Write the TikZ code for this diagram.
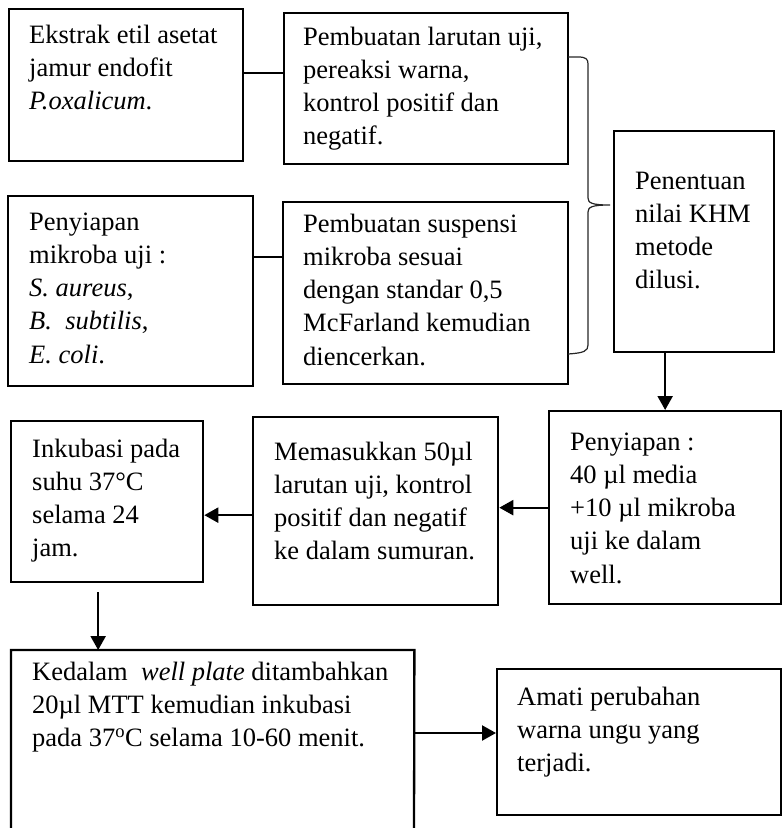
\documentclass[tikz,border=0pt]{standalone}
\usepackage{fontspec}
\setmainfont{Liberation Serif}
\usetikzlibrary{arrows.meta,positioning}
\tikzset{
  boxshape/.style={draw=black, line width=2.3pt, rectangle, inner sep=0pt},
  txt/.style={anchor=base west, inner sep=0pt, font=\fontsize{26.5}{33.3}\selectfont},
  conn/.style={line width=2.3pt},
  arr/.style={line width=2.3pt, -{Triangle[width=15pt,length=14pt]}},
  bracestyle/.style={line width=1.2pt, color=black!85}
}
\newcommand{\bx}[5]{\node[boxshape, anchor=north west, minimum width=#4pt-#2pt, minimum height=#5pt-#3pt] (#1) at (#2,#3) {};}
\newcommand{\tx}[5]{\node[txt] (#1) at (#2,#3) {\parbox[t]{#4pt}{\raggedright #5}};}
\begin{document}
\begin{tikzpicture}[x=1pt,y=-1pt]
\useasboundingbox (0,0) rectangle (782,828);
% boxes
\bx{A}{8}{8}{242}{160}
\bx{B}{283}{12}{567}{163}
\bx{C}{7}{195}{252}{385}
\bx{D}{282}{201}{567}{383}
\bx{E}{613}{130}{773}{351}
\bx{F}{548}{410}{780}{603}
\bx{G}{252}{416}{497}{604}
\bx{H}{10}{420}{202}{581}
\bx{J}{496}{668}{780}{814}
% open-bottom box I
\coordinate (Ibl) at (11,840);
\coordinate (Ibr) at (414,840);
\node[anchor=north west, inner sep=0pt, minimum width=403pt, minimum height=190pt] (I) at (11,650) {};
\draw[line width=2.3pt] (Ibl) -- (I.north west) -- (I.north east) -- (Ibr);
% texts
\tx{tA}{29}{43}{220}{Ekstrak etil asetat\\jamur endofit\\\textit{P.oxalicum}.}
\tx{tB}{303}{45}{270}{Pembuatan larutan uji,\\pereaksi warna,\\kontrol positif dan\\negatif.}
\tx{tC}{29}{230}{220}{Penyiapan\\mikroba uji :\\\textit{S. aureus},\\\textit{B.\ \ subtilis},\\\textit{E. coli}.}
\tx{tD}{303}{232}{270}{Pembuatan suspensi\\mikroba sesuai\\dengan standar 0,5\\McFarland kemudian\\diencerkan.}
\tx{tE}{635}{189}{140}{Penentuan\\nilai KHM\\metode\\dilusi.}
\tx{tF}{570}{450}{210}{Penyiapan :\\40 µl media\\+10 µl mikroba\\uji ke dalam\\well.}
\tx{tG}{274}{460}{225}{Memasukkan 50µl\\larutan uji, kontrol\\positif dan negatif\\ke dalam sumuran.}
\tx{tH}{32}{457}{170}{Inkubasi pada\\suhu 37°C\\selama 24\\jam.}
\tx{tI}{32}{680}{380}{Kedalam\ \ \textit{well plate} ditambahkan\\20µl MTT kemudian inkubasi\\pada 37\textsuperscript{o}C selama 10-60 menit.}
\tx{tJ}{517}{705}{260}{Amati perubahan\\warna ungu yang\\terjadi.}
% connectors
\draw[conn] ([yshift=12pt]A.east) -- ([yshift=12pt]A.east -| B.west);
\draw[conn] ([yshift=34pt]C.east) -- ([yshift=34pt]C.east -| D.west);
\draw[arr] (E.south -| F.north) -- (F.north);
\draw[arr] (F.west) -- (F.west -| G.east);
\draw[arr] ([yshift=-4pt]G.west) -- ([yshift=-4pt]G.west -| H.east);
\coordinate (hs) at ([xshift=-9pt,yshift=-9pt]H.south);
\draw[arr] (hs) -- (hs |- I.north);
\coordinate (ie) at (414,733);
\draw[arr] (ie) -- (ie -| J.west);
% brace
\coordinate (brtip) at (610,205);
\draw[bracestyle] (568,57) -- (578,57) .. controls (586,57) and (588,59) .. (588,64)
  -- (588,198) .. controls (588,203) and (592,205) .. (brtip)
  .. controls (592,205) and (588,207) .. (588,212)
  -- (588,345) .. controls (588,351) and (584,353) .. (568,354);
\end{tikzpicture}
\end{document}
